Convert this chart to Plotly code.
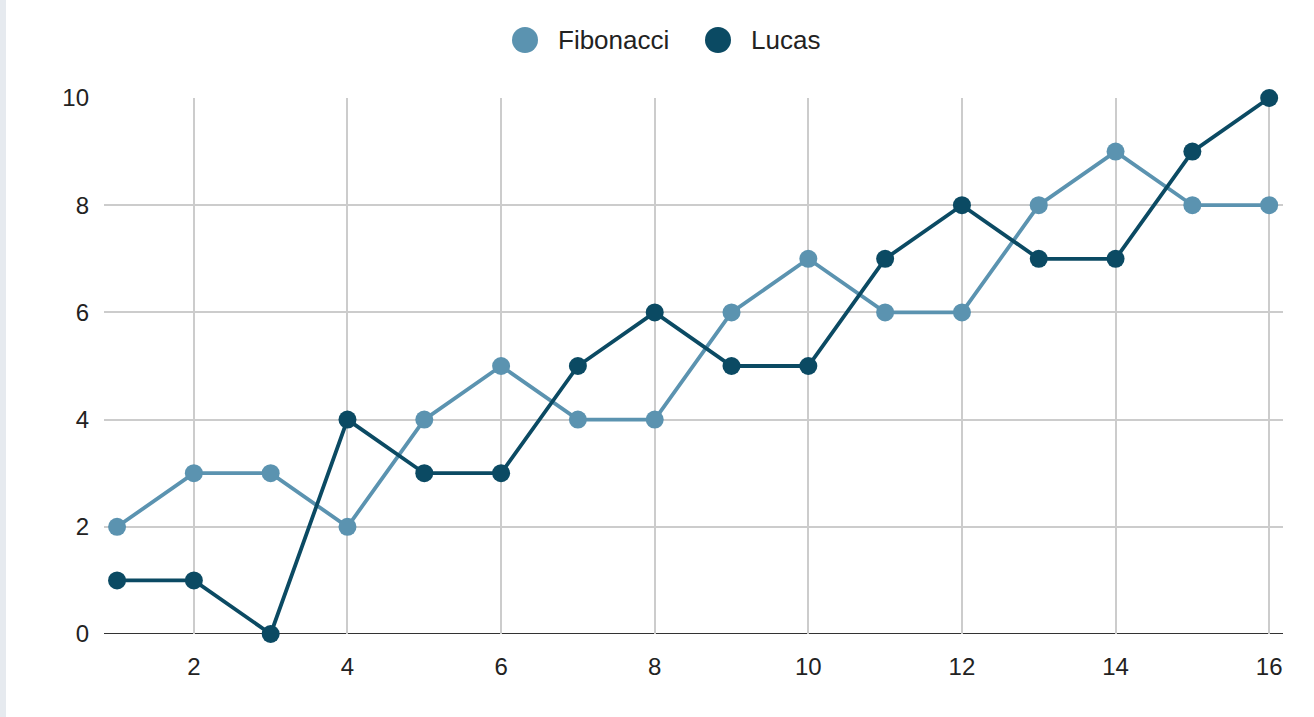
import plotly.graph_objects as go

# Sequence positions and the two series
positions = list(range(1, 17))
fibonacci = [2, 3, 3, 2, 4, 5, 4, 4, 6, 7, 6, 6, 8, 9, 8, 8]
lucas = [1, 1, 0, 4, 3, 3, 5, 6, 5, 5, 7, 8, 7, 7, 9, 10]

x_ticks = [2, 4, 6, 8, 10, 12, 14, 16]
y_ticks = [0, 2, 4, 6, 8, 10]

series_names = ["Fibonacci", "Lucas"]
series_colors = ["#5b93b0", "#0b4a63"]
series_values = [fibonacci, lucas]

W, H = 1314, 717
ml, mr, mt, mb = 104, 31, 98, 83
pw = W - ml - mr
ph = H - mt - mb

fig = go.Figure()
for name, values, color in zip(series_names, series_values, series_colors):
    fig.add_trace(go.Scatter(
        x=positions, y=values, name=name, mode="lines+markers",
        line=dict(color=color, width=3.8),
        marker=dict(color=color, size=18),
        cliponaxis=False, showlegend=False,
    ))

# Custom legend row: large dots with labels, centred above the plot
legend_y = (H - mb - 40) / ph  # paper y of the legend row
legend_dot_px = [525, 718]
for name, color, px in zip(series_names, series_colors, legend_dot_px):
    xp = (px - ml) / pw
    fig.add_shape(type="circle", xref="paper", yref="paper",
                  xsizemode="pixel", ysizemode="pixel", xanchor=xp, yanchor=legend_y,
                  x0=-13, x1=13, y0=-13, y1=13,
                  fillcolor=color, line=dict(width=0))
    fig.add_annotation(xref="paper", yref="paper", x=(px + 31) / pw - ml / pw, y=legend_y,
                       text=name, showarrow=False, xanchor="left", yanchor="middle",
                       font=dict(size=26, color="#222222"))

# thin sheet edge strip at the far left
fig.add_shape(type="rect", xref="paper", yref="paper",
              x0=-ml / pw, x1=-(ml - 6) / pw, y0=-mb / ph, y1=1 + mt / ph,
              fillcolor="#e6eaef", line=dict(width=0), layer="below")

fig.update_layout(
    width=W, height=H,
    margin=dict(l=ml, r=mr, t=mt, b=mb),
    paper_bgcolor="white", plot_bgcolor="white",
    font=dict(family="Liberation Sans, Arial, sans-serif", size=24, color="#222222"),
    showlegend=False,
    xaxis=dict(range=[0.83, 16.18], tickvals=x_ticks, showgrid=True, gridcolor="#cccccc", gridwidth=2,
               zeroline=False, showline=False, ticks="", tickfont=dict(size=24),
               ticklabelstandoff=16),
    yaxis=dict(range=[0, 10], tickvals=y_ticks, showgrid=True, gridcolor="#cccccc", gridwidth=2,
               zeroline=False, showline=False, ticks="", tickfont=dict(size=24),
               ticklabelstandoff=14),
)

# dark baseline at zero
fig.add_shape(type="line", xref="paper", yref="y", x0=0, x1=1, y0=0, y1=0,
              line=dict(color="#333333", width=2), layer="below")

fig.write_html("out.html")
